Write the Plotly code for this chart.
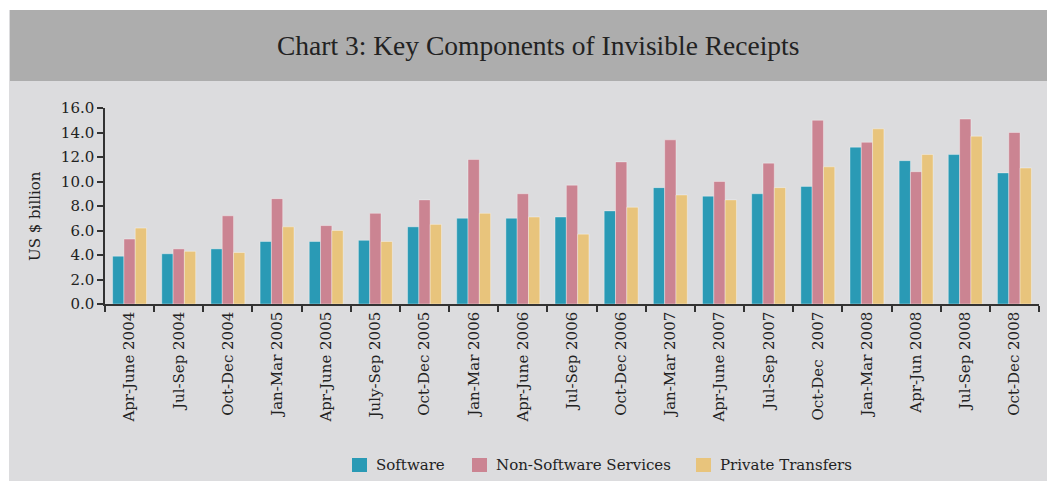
import plotly.graph_objects as go

categories = ["Apr-June 2004", "Jul-Sep 2004", "Oct-Dec 2004", "Jan-Mar 2005",
              "Apr-June 2005", "July-Sep 2005", "Oct-Dec 2005", "Jan-Mar 2006",
              "Apr-June 2006", "Jul-Sep 2006", "Oct-Dec 2006", "Jan-Mar 2007",
              "Apr-June 2007", "Jul-Sep 2007", "Oct-Dec  2007", "Jan-Mar 2008",
              "Apr-Jun 2008", "Jul-Sep 2008", "Oct-Dec 2008"]
software = [3.9, 4.1, 4.5, 5.1, 5.1, 5.2, 6.3, 7.0, 7.0, 7.1, 7.6, 9.5,
            8.8, 9.0, 9.6, 12.8, 11.7, 12.2, 10.7]
non_software = [5.3, 4.5, 7.2, 8.6, 6.4, 7.4, 8.5, 11.8, 9.0, 9.7, 11.6, 13.4,
                10.0, 11.5, 15.0, 13.2, 10.8, 15.1, 14.0]
private_transfers = [6.2, 4.3, 4.2, 6.3, 6.0, 5.1, 6.5, 7.4, 7.1, 5.7, 7.9, 8.9,
                     8.5, 9.5, 11.2, 14.3, 12.2, 13.7, 11.1]
series_names = ["Software", "Non-Software Services", "Private Transfers"]
y_ticks = [0, 2, 4, 6, 8, 10, 12, 14, 16]

FONT = "DejaVu Serif"
TITLE_FONT = "Liberation Serif"
TXT = "#222222"
W, H = 1047, 481
colors = ["#2A9AB5", "#CB8492", "#E8C47C"]

fig = go.Figure()
for name, vals, col in zip(series_names, [software, non_software, private_transfers], colors):
    fig.add_trace(go.Bar(x=categories, y=vals, name=name, showlegend=False,
                         marker=dict(color=col, line=dict(color="rgba(255,255,255,0.35)", width=1))))

ml, mr, mt, mb = 105, 8, 108, 177
pw = W - ml - mr
ph = H - mt - mb

def fx(p):
    return (p - ml) / pw

def fy(p):
    return (H - mb - p) / ph

fig.update_layout(
    width=W, height=H,
    margin=dict(l=ml, r=mr, t=mt, b=mb, autoexpand=False),
    paper_bgcolor="#DCDCDE",
    plot_bgcolor="#DCDCDE",
    barmode="group", bargap=0.31, bargroupgap=0,
    font=dict(family=FONT, size=15, color=TXT),
    showlegend=False,
    xaxis=dict(type="category", tickangle=-90, showline=True, linecolor="#333333", linewidth=1.5,
               ticks="outside", tickson="boundaries", ticklen=6, tickcolor="#333333", tickwidth=1.5,
               showgrid=False, tickfont=dict(family=FONT, size=15, color=TXT)),
    yaxis=dict(range=[0, 16], tickvals=y_ticks, ticktext=[f"{v:.1f}" for v in y_ticks],
               showline=True, linecolor="#333333", linewidth=1.5, ticks="outside", ticklen=6,
               tickcolor="#333333", tickwidth=1.5, showgrid=False, zeroline=False,
               tickfont=dict(family=FONT, size=15, color=TXT)),
)

shapes = [
    dict(type="rect", xref="paper", yref="paper", x0=fx(0), x1=fx(9), y0=fy(H), y1=fy(0),
         layer="above", line=dict(width=0), fillcolor="white"),
    dict(type="rect", xref="paper", yref="paper", x0=fx(0), x1=fx(W), y0=fy(10), y1=fy(0),
         layer="above", line=dict(width=0), fillcolor="white"),
    dict(type="rect", xref="paper", yref="paper", x0=fx(10), x1=fx(W), y0=fy(81), y1=fy(10),
         layer="above", line=dict(width=0), fillcolor="#ADADAD"),
]

# custom legend
leg_swatch_x = [352, 472, 696]
for sx, col, name in zip(leg_swatch_x, colors, series_names):
    shapes.append(dict(type="rect", xref="paper", yref="paper", x0=fx(sx), x1=fx(sx + 15),
                       y0=fy(472), y1=fy(458), line=dict(width=0), fillcolor=col, layer="above"))
    fig.add_annotation(text=name, xref="paper", yref="paper", x=fx(sx + 22), y=fy(465),
                       xanchor="left", yanchor="middle", showarrow=False,
                       font=dict(family=FONT, size=15, color=TXT))

fig.update_layout(shapes=shapes)

fig.add_annotation(text="Chart 3: Key Components of Invisible Receipts", xref="paper", yref="paper",
                   x=fx(538), y=fy(45), xanchor="center", yanchor="middle", showarrow=False,
                   font=dict(family=TITLE_FONT, size=27.5, color=TXT))
fig.add_annotation(text="US $ billion", xref="paper", yref="paper", x=fx(35), y=fy(216),
                   xanchor="center", yanchor="middle", textangle=-90, showarrow=False,
                   font=dict(family=FONT, size=15, color=TXT))

fig.write_html("out.html")
